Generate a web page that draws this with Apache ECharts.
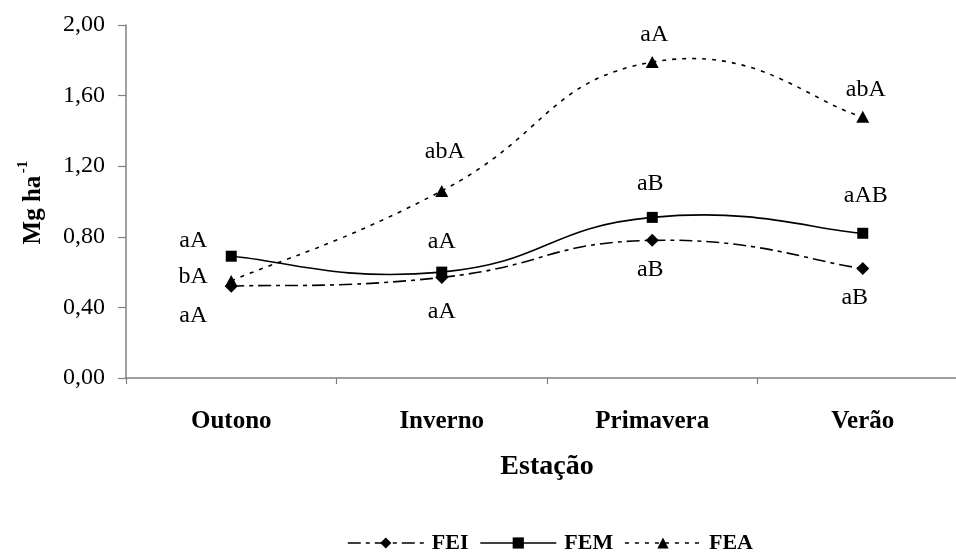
<!DOCTYPE html>
<html>
<head>
<meta charset="utf-8">
<script src="https://cdn.jsdelivr.net/npm/echarts@6/dist/echarts.min.js"></script>
<style>
  html, body { margin: 0; padding: 0; background: #fff; overflow: hidden; }
  #chart { width: 956px; height: 554px; }
</style>
</head>
<body>
<div id="chart"></div>
<script>
// Seasons on the category axis
const seasons = ['Outono', 'Inverno', 'Primavera', 'Verão'];

// Mean values (Mg ha-1) per treatment
const fei = [0.52, 0.57, 0.78, 0.62];
const fem = [0.69, 0.60, 0.91, 0.82];
const fea = [0.55, 1.06, 1.79, 1.48];

// Significance letters shown beside each point
const feiLetters = ['aA', 'aA', 'aB', 'aB'];
const femLetters = ['aA', 'aA', 'aB', 'aAB'];
const feaLetters = ['bA', 'abA', 'aA', 'abA'];

// Y axis ticks
const yMin = 0, yMax = 2, yStep = 0.4;

// Where each letter sits relative to its marker (pixels)
const letterOffsets = {
  FEI: [[-38, 29], [0, 34], [-2, 29], [-8, 29]],
  FEM: [[-38, -16], [0, -30], [-2, -34], [3, -38]],
  FEA: [[-38, -4], [3, -39], [2, -27], [3, -27]]
};

const serif = '"Liberation Serif", "Times New Roman", serif';
const LINE_WIDTH = 1.6;
const TENSION = 0.25;

const styles = {
  FEI: { symbol: 'diamond', size: [13, 13], dash: [13, 5, 4, 5] },
  FEM: { symbol: 'rect', size: [11, 11], dash: 'solid' },
  FEA: { symbol: 'triangle', size: [13, 12], dash: [4, 6] }
};

function points(values, letters, key) {
  return values.map((v, i) => ({
    value: v,
    label: {
      show: true,
      formatter: letters[i],
      position: 'inside',
      offset: letterOffsets[key][i]
    }
  }));
}

// Markers and letters; the connecting curve is drawn by the custom series below
function markerSeries(name, values, letters) {
  const s = styles[name];
  return {
    name: name,
    type: 'line',
    z: 3,
    data: points(values, letters, name),
    symbol: s.symbol,
    symbolSize: s.size,
    itemStyle: { color: '#000' },
    lineStyle: { color: '#000', width: LINE_WIDTH, type: s.dash, opacity: 0 },
    label: { color: '#000', fontFamily: serif, fontSize: 24 },
    emphasis: { disabled: true }
  };
}

// Smooth curve through the points (cardinal spline as cubic Bézier segments)
function curveSeries(name, values) {
  const s = styles[name];
  return {
    name: name + ' curva',
    type: 'custom',
    coordinateSystem: 'cartesian2d',
    z: 2,
    silent: true,
    data: values.map((v, i) => [i, v]),
    encode: { x: 0, y: 1 },
    renderItem: function (params, api) {
      const i = params.dataIndex;
      const n = values.length;
      if (i >= n - 1) return null;
      const p = k => api.coord([Math.max(0, Math.min(n - 1, k)), values[Math.max(0, Math.min(n - 1, k))]]);
      const p0 = p(i - 1), p1 = p(i), p2 = p(i + 1), p3 = p(i + 2);
      return {
        type: 'bezierCurve',
        shape: {
          x1: p1[0], y1: p1[1],
          cpx1: p1[0] + (p2[0] - p0[0]) * TENSION,
          cpy1: p1[1] + (p2[1] - p0[1]) * TENSION,
          cpx2: p2[0] - (p3[0] - p1[0]) * TENSION,
          cpy2: p2[1] - (p3[1] - p1[1]) * TENSION,
          x2: p2[0], y2: p2[1]
        },
        style: {
          fill: null,
          stroke: '#000',
          lineWidth: LINE_WIDTH,
          lineDash: s.dash === 'solid' ? null : s.dash
        }
      };
    }
  };
}

function legendItem(name) {
  const s = styles[name];
  return {
    name: name,
    lineStyle: { opacity: 1, color: '#000', width: LINE_WIDTH, type: s.dash }
  };
}

const chart = echarts.init(document.getElementById('chart'), null, { renderer: 'canvas' });

chart.setOption({
  animation: false,
  backgroundColor: '#fff',
  // The plot runs a little past the right edge of the page
  grid: {
    left: 126, width: 842, top: 25, bottom: 176,
    containLabel: false,
    outerBoundsMode: 'none'
  },
  xAxis: {
    type: 'category',
    data: seasons,
    boundaryGap: true,
    axisLine: { lineStyle: { color: '#808080', width: 1.5 } },
    axisTick: { show: true, length: 6, lineStyle: { color: '#808080', width: 1.2 } },
    axisLabel: {
      margin: 31,
      color: '#000',
      fontFamily: serif,
      fontWeight: 'bold',
      fontSize: 25
    },
    name: 'Estação',
    nameLocation: 'middle',
    nameGap: 75,
    nameTextStyle: {
      color: '#000',
      fontFamily: serif,
      fontWeight: 'bold',
      fontSize: 28
    }
  },
  yAxis: {
    type: 'value',
    min: yMin,
    max: yMax,
    interval: yStep,
    splitLine: { show: false },
    axisLine: { show: true, lineStyle: { color: '#808080', width: 1.5 } },
    axisTick: { show: true, length: 8, lineStyle: { color: '#808080', width: 1.2 } },
    axisLabel: {
      margin: 21,
      color: '#000',
      fontFamily: serif,
      fontSize: 24,
      formatter: v => v.toFixed(2).replace('.', ',')
    }
  },
  legend: {
    left: 347,
    top: 532,
    padding: 0,
    itemWidth: 76,
    itemHeight: 14,
    itemGap: 11,
    selectedMode: false,
    textStyle: {
      color: '#000',
      fontFamily: serif,
      fontWeight: 'bold',
      fontSize: 22,
      padding: [0, 0, 0, 3]
    },
    data: ['FEI', 'FEM', 'FEA'].map(legendItem)
  },
  graphic: [
    {
      type: 'group',
      x: 34,
      y: 206,
      rotation: Math.PI / 2,
      children: [
        {
          type: 'text',
          x: -4,
          y: 0,
          style: {
            text: 'Mg ha',
            fill: '#000',
            font: 'bold 25px ' + serif,
            align: 'center',
            verticalAlign: 'middle'
          }
        },
        {
          type: 'text',
          x: 39,
          y: -11,
          style: {
            text: '-1',
            fill: '#000',
            font: 'bold 15px ' + serif,
            align: 'center',
            verticalAlign: 'middle'
          }
        }
      ]
    }
  ],
  series: [
    curveSeries('FEI', fei),
    curveSeries('FEM', fem),
    curveSeries('FEA', fea),
    markerSeries('FEI', fei, feiLetters),
    markerSeries('FEM', fem, femLetters),
    markerSeries('FEA', fea, feaLetters)
  ]
});
</script>
</body>
</html>
